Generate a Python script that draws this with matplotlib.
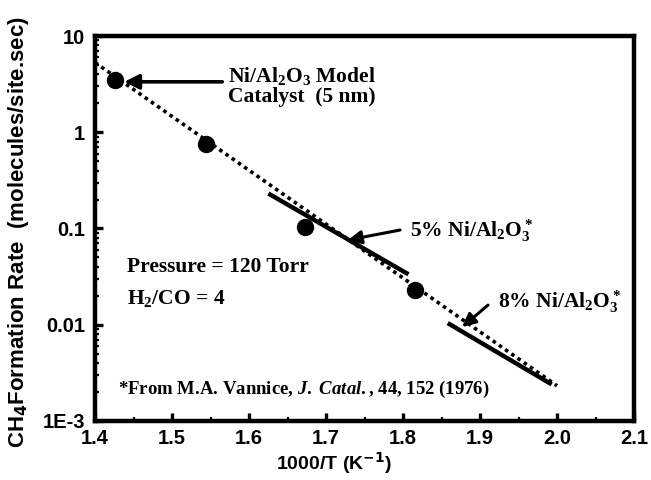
import matplotlib
matplotlib.use("Agg")
import matplotlib.pyplot as plt
from matplotlib.ticker import FixedLocator, FixedFormatter, LogLocator, MultipleLocator, NullFormatter

# ---- data ----
inv_T = [1.426, 1.544, 1.673, 1.8155]
rate = [3.5, 0.75, 0.103, 0.0232]

fit_x = [1.40, 2.00]
fit_y = [5.3, 0.00232]

ni5_x = [1.625, 1.807]
ni5_y = [0.231, 0.0334]

ni8_x = [1.858, 1.993]
ni8_y = [0.0104, 0.0024]

xticks = [1.4, 1.5, 1.6, 1.7, 1.8, 1.9, 2.0, 2.1]
xticklabels = ["1.4", "1.5", "1.6", "1.7", "1.8", "1.9", "2.0", "2.1"]
yticks = [1e-3, 1e-2, 1e-1, 1, 10]
yticklabels = ["1E-3", "0.01", "0.1", "1", "10"]

SANS = "Liberation Sans"
SERIF = "Liberation Serif"

plt.rcParams["mathtext.fontset"] = "custom"
plt.rcParams["mathtext.rm"] = "Liberation Serif:bold"
plt.rcParams["mathtext.it"] = "Liberation Serif:bold:italic"
plt.rcParams["mathtext.bf"] = "Liberation Serif:bold"

fig = plt.figure(figsize=(6.51, 4.80), dpi=100)
ax = fig.add_axes([0.146, 0.123, 0.828, 0.802])

ax.plot(fit_x, fit_y, color="black", lw=2.6, linestyle=(0, (1, 1.1)), dash_capstyle="butt", zorder=2)
ax.plot(ni5_x, ni5_y, color="black", lw=3.2, solid_capstyle="butt", zorder=3)
ax.plot(ni8_x, ni8_y, color="black", lw=3.2, solid_capstyle="butt", zorder=3)
ax.plot(inv_T, rate, "o", color="black", markersize=11.5, zorder=4)

ax.set_yscale("log")
ax.set_xlim(1.4, 2.1)
ax.set_ylim(1e-3, 10)

ax.xaxis.set_major_locator(FixedLocator(xticks))
ax.xaxis.set_major_formatter(FixedFormatter(xticklabels))
ax.xaxis.set_minor_locator(MultipleLocator(0.05))
ax.yaxis.set_major_locator(FixedLocator(yticks))
ax.yaxis.set_major_formatter(FixedFormatter(yticklabels))
ax.yaxis.set_minor_locator(LogLocator(base=10, subs=range(2, 10), numticks=20))
ax.yaxis.set_minor_formatter(NullFormatter())

for s in ax.spines.values():
    s.set_linewidth(3.2)

ax.tick_params(axis="both", which="major", direction="in", length=5.5, width=2.4,
               top=False, right=False)
ax.tick_params(axis="x", which="major", pad=6)
ax.tick_params(axis="y", which="major", pad=7)
ax.tick_params(axis="both", which="minor", direction="in", length=3, width=1.6,
               top=False, right=False)
for lab in ax.get_xticklabels() + ax.get_yticklabels():
    lab.set_fontfamily(SANS)
    lab.set_fontweight("bold")
    lab.set_fontsize(14.5)

ax.set_xlabel(r"1000/T (K$^{\mathbf{-1}}$)", fontfamily=SANS, fontweight="bold", fontsize=14,
              math_fontfamily="dejavusans")
ax.xaxis.set_label_coords(0.443, -0.076)
ax.set_ylabel(r"CH$_{\mathbf{4}}$Formation Rate  (molecules/site.sec)", fontfamily=SANS,
              fontweight="bold", fontsize=16, math_fontfamily="dejavusans")
ax.yaxis.set_label_coords(-0.118, 0.49)

serif_kw = dict(fontfamily=SERIF, fontweight="bold", fontsize=15.5, color="black")

ax.text(0.384, 0.870, "Ni/Al$_2$O$_3$ Model\nCatalyst  (5 nm)", transform=ax.transAxes,
        ha="center", va="center", linespacing=1.05, **serif_kw)
ax.annotate("", xy=(0.054, 0.881), xytext=(0.236, 0.881), xycoords="axes fraction",
            arrowprops=dict(arrowstyle="-|>", lw=2.6, color="black", mutation_scale=22,
                            shrinkA=0, shrinkB=0))

ax.text(0.584, 0.494, "5% Ni/Al$_2$O$_3^*$", transform=ax.transAxes,
        ha="left", va="center", **serif_kw)
ax.annotate("", xy=(0.469, 0.470), xytext=(0.566, 0.496), xycoords="axes fraction",
            arrowprops=dict(arrowstyle="-|>", lw=2.2, color="black", mutation_scale=20,
                            shrinkA=0, shrinkB=0))

ax.text(0.748, 0.310, "8% Ni/Al$_2$O$_3^*$", transform=ax.transAxes,
        ha="left", va="center", **serif_kw)
ax.annotate("", xy=(0.681, 0.244), xytext=(0.729, 0.301), xycoords="axes fraction",
            arrowprops=dict(arrowstyle="-|>", lw=2.2, color="black", mutation_scale=20,
                            shrinkA=0, shrinkB=0))

ax.text(0.059, 0.400, "Pressure = 120 Torr", transform=ax.transAxes,
        ha="left", va="center", **serif_kw)
ax.text(0.059, 0.319, "H$_2$/CO = 4", transform=ax.transAxes,
        ha="left", va="center", **serif_kw)

ax.text(0.043, 0.083, r"*From M.A. Vannice, $\mathit{J.\ Catal.}\mathrm{,}$ 44, 152 (1976)",
        transform=ax.transAxes, ha="left", va="center", fontfamily=SERIF,
        fontweight="bold", fontsize=13.5)

fig.savefig("out.png", dpi=100)
